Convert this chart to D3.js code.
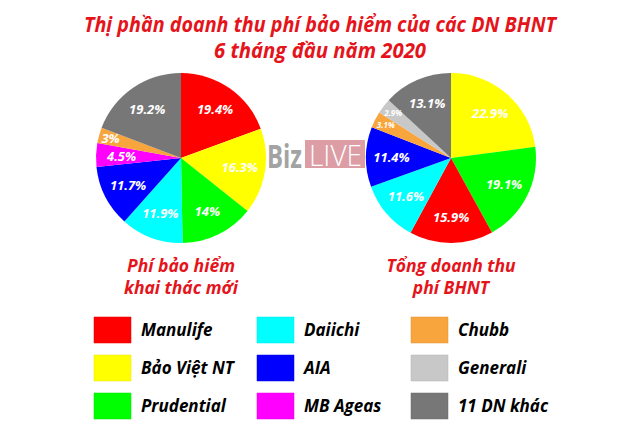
<!DOCTYPE html>
<html><head><meta charset="utf-8">
<script src="https://cdn.jsdelivr.net/npm/d3@7"></script>
<style>
html,body{margin:0;padding:0;background:#fff;}
svg{display:block;font-family:"Open Sans",sans-serif;}
</style></head>
<body><svg id="c" width="640" height="442"></svg>
<script>
const titleLines = ["Thị phần doanh thu phí bảo hiểm của các DN BHNT", "6 tháng đầu năm 2020"];
const companies = ["Manulife","Bảo Việt NT","Prudential","Daiichi","AIA","MB Ageas","Chubb","Generali","11 DN khác"];
const colors = ["#ff0000","#ffff00","#00ff00","#00ffff","#0000ff","#ff00ff","#f8a53d","#c8c8c8","#777777"];
const newPremiumNames = ["Manulife","Bảo Việt NT","Prudential","Daiichi","AIA","MB Ageas","Chubb","11 DN khác"];
const newPremiumValues = [19.4,16.3,14,11.9,11.7,4.5,3,19.2];
const totalNames = ["Bảo Việt NT","Prudential","Manulife","Daiichi","AIA","Chubb","Generali","11 DN khác"];
const totalValues = [22.9,19.1,15.9,11.6,11.4,3.1,2.9,13.1];
const pieTitles = [["Phí bảo hiểm","khai thác mới"],["Tổng doanh thu","phí BHNT"]];

const svg = d3.select("#c");
const red = "#e5141b";
const color = d3.scaleOrdinal(companies, colors);

function fit(sel, w){
  sel.each(function(){
    const len = this.getComputedTextLength();
    if (len > w) d3.select(this).attr("textLength", w).attr("lengthAdjust","spacingAndGlyphs");
  });
}

// title
svg.selectAll("text.title").data(titleLines).join("text")
  .attr("class","title")
  .attr("x",320).attr("y",(d,i)=>32+i*26)
  .attr("text-anchor","middle")
  .attr("fill",red).attr("font-size",21).attr("font-weight",700).attr("font-style","italic")
  .text(d=>d)
  .each(function(d,i){ fit(d3.select(this), i===0?472:212); });

// watermark
const wm = svg.append("g");
wm.append("text").attr("x",267).attr("y",168).attr("font-size",32).attr("font-weight",700)
  .attr("fill","#a3a3a3").text("Biz").each(function(){ fit(d3.select(this),35); });
wm.append("rect").attr("x",305).attr("y",140).attr("width",60).attr("height",28).attr("fill","#dc9da5");
wm.append("text").attr("x",309).attr("y",166).attr("font-size",29).attr("font-weight",300)
  .attr("fill","#fff").text("LIVE").each(function(){ fit(d3.select(this),53); });

const pie = d3.pie().sort(null).value(d=>d.v);
const R = 85;
const arc = d3.arc().innerRadius(0).outerRadius(R);

function drawPie(cx, names, values, titles){
  const g = svg.append("g").attr("transform",`translate(${cx},158)`);
  const data = pie(names.map((n,i)=>({n, v: values[i]})));
  g.selectAll("path").data(data).join("path")
    .attr("d",arc).attr("fill",d=>color(d.data.n));
  g.selectAll("text").data(data).join("text")
    .each(function(d){
      const small = d.data.v < 4;
      const tiny = small && String(d.data.v).includes(".");
      const rr = small ? R*0.86 : R*0.7;
      const a = (d.startAngle+d.endAngle)/2;
      d3.select(this)
        .attr("x", Math.sin(a)*rr).attr("y", -Math.cos(a)*rr)
        .attr("font-size", tiny ? 8 : 13);
    })
    .attr("text-anchor","middle").attr("dy","0.35em")
    .attr("fill","#fff").attr("font-weight",700).attr("font-style","italic")
    .text(d=>d.data.v+"%");
  svg.append("g").selectAll("text").data(titles).join("text")
    .attr("x",cx).attr("y",(d,i)=>272+i*22)
    .attr("text-anchor","middle")
    .attr("fill",red).attr("font-size",17.5).attr("font-weight",700).attr("font-style","italic")
    .text(d=>d);
}
drawPie(181, newPremiumNames, newPremiumValues, pieTitles[0]);
drawPie(451, totalNames, totalValues, pieTitles[1]);

// legend
const colX = [94,257,411];
const leg = svg.append("g");
const items = leg.selectAll("g").data(companies).join("g")
  .attr("transform",(d,i)=>`translate(${colX[Math.floor(i/3)]},${317+(i%3)*38})`);
items.append("rect").attr("width",37).attr("height",26).attr("fill",d=>color(d))
  .attr("stroke",d=>d3.color(color(d)).darker(0.3)).attr("stroke-width",0.5);
items.append("text").attr("x",47).attr("y",19)
  .attr("font-size",17).attr("font-weight",700).attr("font-style","italic").attr("fill","#000")
  .text(d=>d);
</script></body></html>
